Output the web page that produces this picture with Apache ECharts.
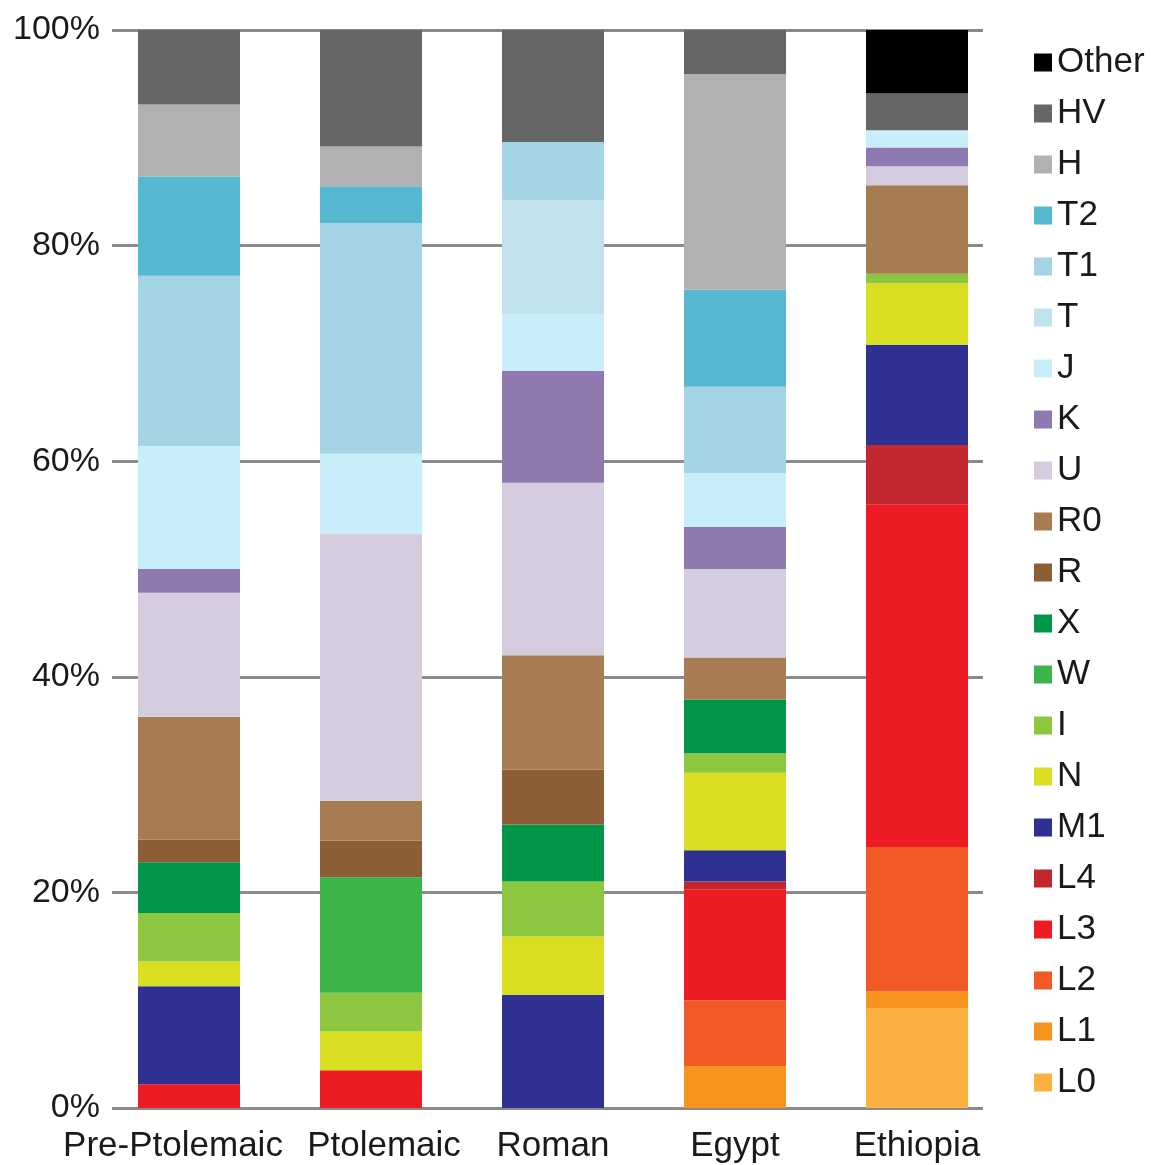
<!DOCTYPE html>
<html>
<head>
<meta charset="utf-8">
<script src="https://cdn.jsdelivr.net/npm/echarts@6/dist/echarts.min.js"></script>
<style>html,body{margin:0;padding:0;background:#fff;}#c{width:1151px;height:1165px;}</style>
</head>
<body>
<div id="c"></div>
<script>
const categories = ['Pre-Ptolemaic', 'Ptolemaic', 'Roman', 'Egypt', 'Ethiopia'];
const yTicks = [0, 20, 40, 60, 80, 100];

// haplogroup shares (%) per category, bottom to top
const L0 = [0, 0, 0, 0, 9.2];
const L1 = [0, 0, 0, 3.9, 1.6];
const L2 = [0, 0, 0, 6.1, 13.4];
const L3 = [2.2, 3.5, 0, 10.3, 31.8];
const L4 = [0, 0, 0, 0.7, 5.5];
const M1 = [9.1, 0, 10.5, 2.9, 9.3];
const N  = [2.3, 3.6, 5.4, 7.2, 5.7];
const I  = [4.5, 3.6, 5.1, 1.8, 0.9];
const W  = [0, 10.7, 0, 0, 0];
const X  = [4.7, 0, 5.3, 5.0, 0];
const R  = [2.1, 3.4, 5.1, 0, 0];
const R0 = [11.4, 3.7, 10.6, 3.9, 8.2];
const U  = [11.5, 24.8, 16.0, 8.2, 1.75];
const K  = [2.2, 0, 10.4, 3.9, 1.75];
const J  = [11.4, 7.4, 5.2, 5.0, 1.6];
const T  = [0, 0, 10.6, 0, 0];
const T1 = [15.8, 21.4, 5.4, 8.0, 0];
const T2 = [9.2, 3.4, 0, 9.0, 0];
const H  = [6.7, 3.7, 0, 20.0, 0];
const HV = [6.9, 10.8, 10.4, 4.1, 3.4];
const Other = [0, 0, 0, 0, 5.9];

const groups = [
  ['L0', L0, '#fbb040'], ['L1', L1, '#f7941d'], ['L2', L2, '#f15a24'],
  ['L3', L3, '#ed1c24'], ['L4', L4, '#c1272d'], ['M1', M1, '#2e3192'],
  ['N', N, '#d9df20'], ['I', I, '#8dc63f'], ['W', W, '#3bb54a'],
  ['X', X, '#00964a'], ['R', R, '#8b5e36'], ['R0', R0, '#a77c52'],
  ['U', U, '#d5cce0'], ['K', K, '#9079b0'], ['J', J, '#c8eefa'],
  ['T', T, '#c0e2eb'], ['T1', T1, '#a3d4e3'], ['T2', T2, '#56b7d1'],
  ['H', H, '#b1b1b1'], ['HV', HV, '#666666'], ['Other', Other, '#000000']
];

const chart = echarts.init(document.getElementById('c'), null, {renderer: 'canvas'});
const FONT = '"Liberation Sans", Arial, Helvetica, sans-serif';

const option = {
  backgroundColor: '#ffffff',
  animation: false,
  legend: {
    orient: 'vertical',
    left: 1029,
    top: 40,
    itemWidth: 18,
    itemHeight: 18,
    itemGap: 16,
    icon: 'rect',
    data: groups.map(g => g[0]).reverse(),
    textStyle: {fontFamily: FONT, fontSize: 35, color: '#1a1a1a', lineHeight: 34}
  },
  grid: [
    {left: 98, right: 143, top: 30, bottom: 57},
    {left: 112, right: 168, top: 30, bottom: 57}
  ],
  xAxis: [
    {
      type: 'category', gridIndex: 0, data: categories,
      axisLine: {show: false}, axisTick: {show: false},
      axisLabel: {
        fontFamily: FONT, fontSize: 35, color: '#1a1a1a', margin: 21, interval: 0,
        formatter: (v, i) => (i === 0 ? '{left|' + v + '}' : i === 1 ? '{right|' + v + '}' : v),
        rich: {
          left: {fontFamily: FONT, fontSize: 35, color: '#1a1a1a', padding: [0, 32, 0, 0]},
          right: {fontFamily: FONT, fontSize: 35, color: '#1a1a1a', padding: [0, 0, 0, 26]}
        }
      }
    },
    {type: 'category', gridIndex: 1, data: categories, show: false}
  ],
  yAxis: [
    {type: 'value', gridIndex: 0, min: 0, max: 100, interval: 20, show: false},
    {
      type: 'value', gridIndex: 1, min: 0, max: 100, interval: 20,
      axisLine: {show: false}, axisTick: {show: false},
      axisLabel: {
        fontFamily: FONT, fontSize: 34, color: '#1a1a1a', margin: 12,
        formatter: v => (yTicks.indexOf(v) >= 0 ? v + '%' : '')
      },
      splitLine: {show: true, lineStyle: {color: '#8a8a8a', width: 3}}
    }
  ],
  series: groups.map(g => ({
    name: g[0],
    type: 'bar',
    stack: 'total',
    xAxisIndex: 0,
    yAxisIndex: 0,
    barWidth: 102,
    itemStyle: {color: g[2]},
    emphasis: {disabled: true},
    data: g[1],
    z: 3
  }))
};
chart.setOption(option);
</script>
</body>
</html>
